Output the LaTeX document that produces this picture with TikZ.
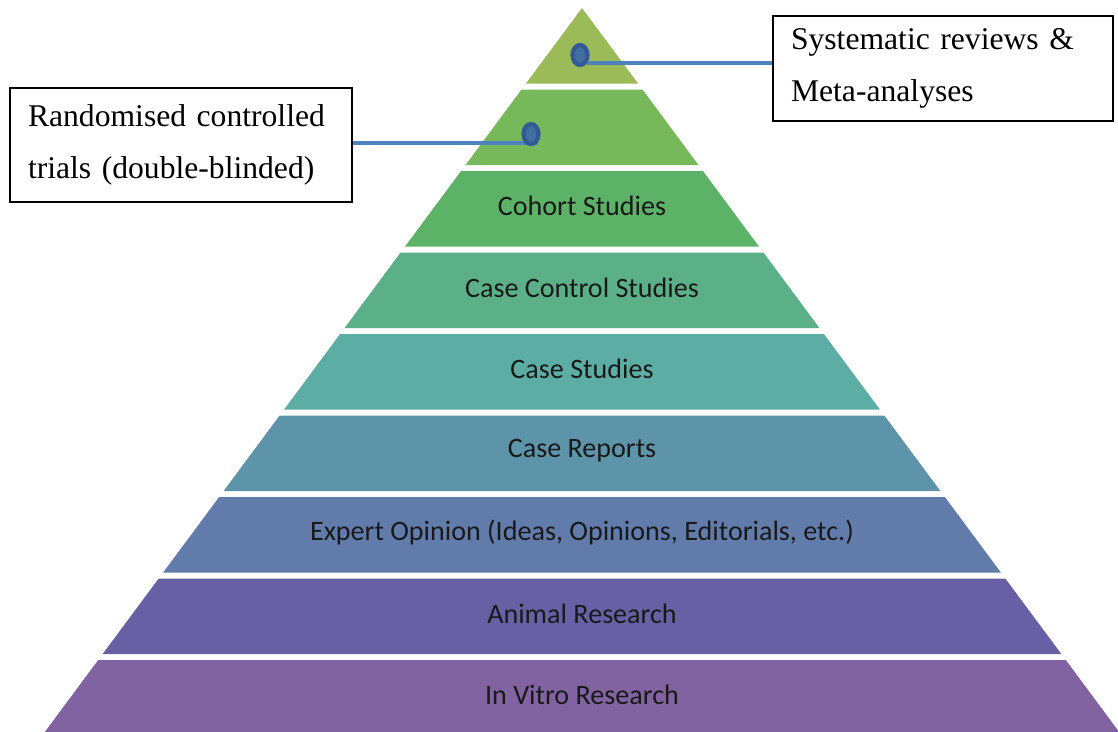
\documentclass[tikz,border=0pt]{standalone}
\usepackage{fontspec}
\setmainfont{Liberation Serif}
\setsansfont{Carlito}
\usetikzlibrary{shapes.geometric}

\definecolor{lvlA}{RGB}{155,187,89}
\definecolor{lvlB}{RGB}{119,184,90}
\definecolor{lvlC}{RGB}{92,178,103}
\definecolor{lvlD}{RGB}{92,176,136}
\definecolor{lvlE}{RGB}{92,174,165}
\definecolor{lvlF}{RGB}{94,148,170}
\definecolor{lvlG}{RGB}{97,124,171}
\definecolor{lvlH}{RGB}{104,96,165}
\definecolor{lvlI}{RGB}{128,99,160}
\definecolor{leadblue}{RGB}{79,129,189}
\definecolor{pinblue}{RGB}{52,90,150}

\begin{document}
\begin{tikzpicture}[x=0.02cm, y=-0.02cm,
    lbl/.style={font=\sffamily\fontsize{16}{18}\selectfont, text=black!90, inner sep=0pt},
    callout/.style={draw=black, line width=0.8pt, fill=white, align=left,
      font=\fontsize{18}{30}\selectfont, inner xsep=0.36cm},
    pin/.style={ellipse, draw=pinblue, line width=2.4pt, fill=leadblue!85!black,
      minimum width=0.3cm, minimum height=0.4cm, inner sep=0pt},
    lead/.style={draw=leadblue, line width=2.8pt}]
  \useasboundingbox (0,0) rectangle (1118,731);

  % pyramid bands
  \foreach \c [count=\k from 0] in {lvlA,lvlB,lvlC,lvlD,lvlE,lvlF,lvlG,lvlH,lvlI} {
    \pgfmathsetmacro\yt{8+81.5*\k}
    \pgfmathsetmacro\yb{\yt+75.5}
    \pgfmathsetmacro\wt{0.742*(\yt-8)}
    \pgfmathsetmacro\wb{0.742*(\yb-8)}
    \fill[\c] ({582-\wt},\yt) -- ({582+\wt},\yt) -- ({582+\wb},\yb) -- ({582-\wb},\yb) -- cycle;
  }

  % band labels
  \foreach \t [count=\k from 2] in {Cohort Studies, Case Control Studies, Case Studies,
      Case Reports, {Expert Opinion (Ideas, Opinions, Editorials, etc.)},
      Animal Research, In Vitro Research}
    \node[lbl] (lvl\k) at (582, {8+81.5*\k+35}) {\t};

  % callouts
  \node[callout, text width=6.12cm, minimum height=2.28cm] (boxRCT) at (181,145)
    {Randomised controlled\\trials (double-blinded)};
  \node[callout, text width=6.08cm, minimum height=2.1cm] (boxSR) at (943,68.5)
    {Systematic reviews \&\\Meta-analyses};

  \coordinate (tipSR) at (587,63);
  \coordinate (tipRCT) at (538,143);
  \draw[lead] (tipSR) -- (tipSR -| boxSR.west);
  \draw[lead] (tipRCT) -- (tipRCT -| boxRCT.east);
  \node[pin] (pinSR) at (580,55) {};
  \node[pin] (pinRCT) at (531,134) {};
\end{tikzpicture}
\end{document}
